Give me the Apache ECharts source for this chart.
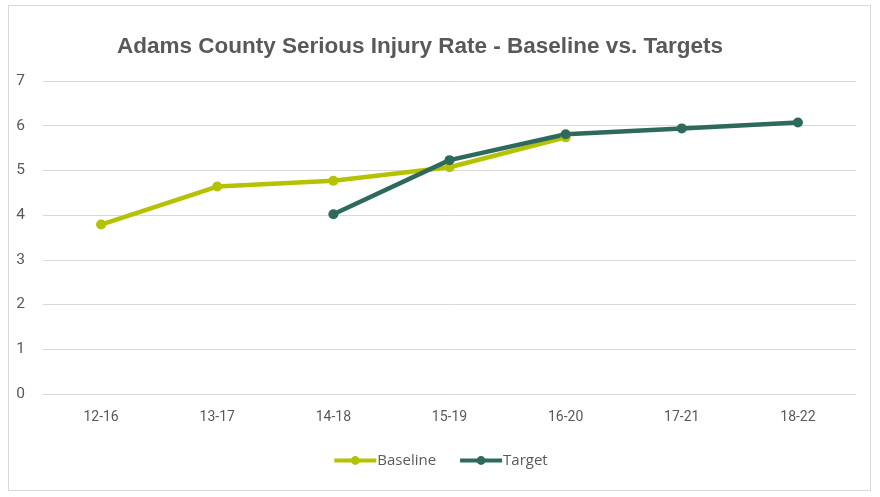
<!DOCTYPE html>
<html><head><meta charset="utf-8">
<script src="https://cdn.jsdelivr.net/npm/echarts@6/dist/echarts.min.js"></script>
<style>
html,body{margin:0;padding:0;background:#fff;}
#frame{position:absolute;left:8px;top:5px;width:863px;height:486px;border:1px solid #d9d9d9;box-sizing:border-box;}
#c{position:absolute;left:0;top:0;width:880px;height:497px;}
</style></head>
<body><div id="frame"></div><div id="c"></div>
<script>
const categories = ['12-16','13-17','14-18','15-19','16-20','17-21','18-22'];
const baseline = [3.79, 4.64, 4.77, 5.07, 5.74, null, null];
const target = [null, null, 4.02, 5.23, 5.81, 5.94, 6.07];
const yTicks = [0, 7, 1];

const chart = echarts.init(document.getElementById('c'));
chart.setOption({
  animation:false,
  title:{text:'Adams County Serious Injury Rate - Baseline vs. Targets', left:415, top:30, textAlign:'center',
    textStyle:{fontFamily:'Liberation Sans, sans-serif', fontWeight:'bold', fontSize:22.5, color:'#595959'}},
  legend:{bottom:24, left:'center', itemWidth:42, itemHeight:11, itemGap:22,
    lineStyle:{width:4},
    textStyle:{fontFamily:'Open Sans, sans-serif', fontSize:15, color:'#595959', padding:[0,0,0,-4]},
    data:['Baseline','Target']},
  grid:{left:43, right:24, top:81, bottom:103},
  xAxis:{type:'category', data:categories, boundaryGap:true,
    axisLine:{show:false}, axisTick:{show:false},
    axisLabel:{color:'#595959', fontSize:14, fontFamily:'Roboto, sans-serif', margin:16}},
  yAxis:{type:'value', min:yTicks[0], max:yTicks[1], interval:yTicks[2],
    axisLine:{show:false}, axisTick:{show:false},
    splitLine:{lineStyle:{color:'#d9d9d9', width:1}},
    axisLabel:{color:'#595959', fontSize:15.5, fontFamily:'Roboto, sans-serif', margin:18}},
  series:[
    {name:'Baseline', type:'line', data:baseline, connectNulls:false, symbol:'circle', symbolSize:10,
      lineStyle:{color:'#B4C300', width:4.5}, itemStyle:{color:'#B4C300'}},
    {name:'Target', type:'line', data:target, symbol:'circle', symbolSize:10,
      lineStyle:{color:'#2E6A5C', width:4.5}, itemStyle:{color:'#2E6A5C'}}
  ]
});
</script></body></html>
